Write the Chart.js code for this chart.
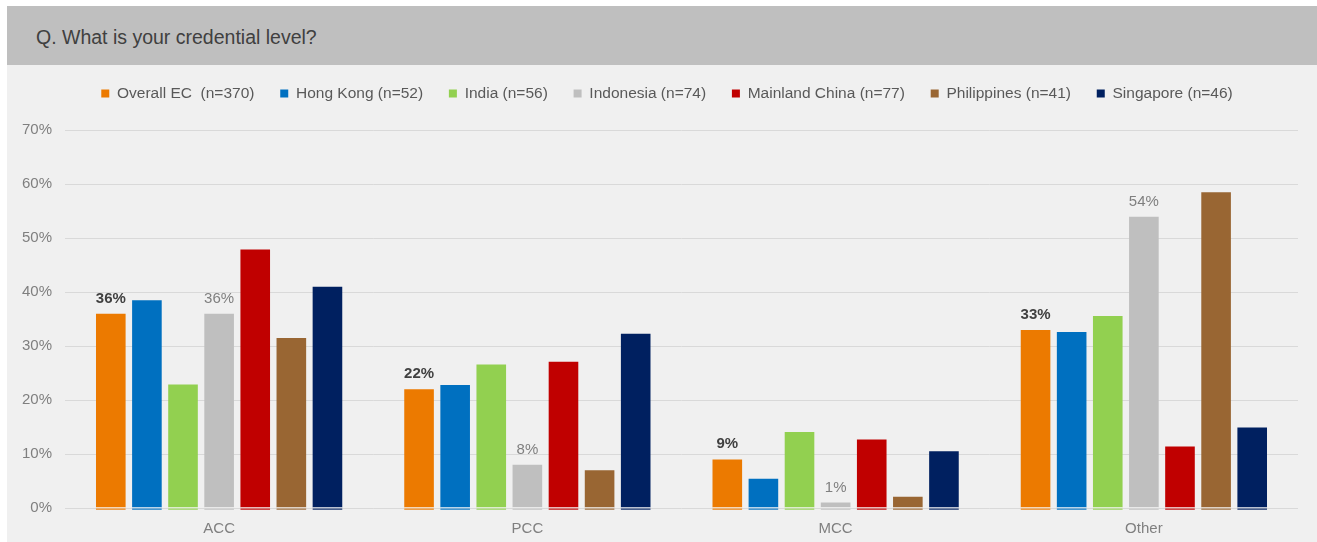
<!DOCTYPE html>
<html>
<head>
<meta charset="utf-8">
<script src="https://cdn.jsdelivr.net/npm/chart.js@4/dist/chart.umd.min.js"></script>
<style>
  html, body { margin: 0; padding: 0; background: #ffffff; }
  #panel { position: absolute; left: 7px; top: 6px; width: 1310px; height: 536px; }
  #title {
    height: 59px; background: #bfbfbf; color: #404040;
    font-family: "Liberation Sans", Arial, sans-serif; font-size: 19.5px;
    line-height: 62px; padding-left: 29px; box-sizing: border-box;
  }
  #wrap { position: relative; width: 1310px; height: 477px; background: #f0f0f0; }
</style>
</head>
<body>
<div id="panel">
  <div id="title">Q. What is your credential level?</div>
  <div id="wrap"><canvas id="c" width="1310" height="477"></canvas></div>
</div>
<script>
const categories = ['ACC', 'PCC', 'MCC', 'Other'];
const seriesNames = ['Overall EC  (n=370)', 'Hong Kong (n=52)', 'India (n=56)', 'Indonesia (n=74)',
                     'Mainland China (n=77)', 'Philippines (n=41)', 'Singapore (n=46)'];
const overallEC     = [36, 22, 9, 33];
const hongKong      = [38.5, 22.8, 5.4, 32.6];
const india         = [22.9, 26.6, 14.1, 35.6];
const indonesia     = [36, 8, 1, 54];
const mainlandChina = [47.9, 27.1, 12.7, 11.4];
const philippines   = [31.5, 7.0, 2.1, 58.5];
const singapore     = [41.0, 32.3, 10.5, 14.9];
const yTicks = [0, 10, 20, 30, 40, 50, 60, 70];

const colors = ['#ec7a00', '#0070c0', '#92d050', '#bfbfbf', '#c00000', '#996633', '#002060'];
const values = [overallEC, hongKong, india, indonesia, mainlandChina, philippines, singapore];
// series that carry value labels, with their label styling
const labelStyle = {
  0: { font: 'bold 15px "Liberation Sans", Arial, sans-serif', color: '#404040' },
  3: { font: '15px "Liberation Sans", Arial, sans-serif', color: '#7f7f7f' }
};

const FONT = '"Liberation Sans", Arial, sans-serif';

// legend placement: extra gap below the legend row, and a small shift to the right
const legendPlacement = {
  id: 'legendPlacement',
  afterInit(chart) {
    const lg = chart.legend;
    if (!lg) return;
    const fit = lg.fit.bind(lg);
    lg.fit = function () { fit(); this.height += 19; };
  },
  afterLayout(chart) {
    const lg = chart.legend;
    if (!lg) return;
    lg.left += 14.5;
    lg.right += 14.5;
  }
};

const barExtras = {
  id: 'barExtras',
  afterDatasetsDraw(chart) {
    const ctx = chart.ctx;
    chart.data.datasets.forEach((ds, i) => {
      const meta = chart.getDatasetMeta(i);
      meta.data.forEach((bar, j) => {
        const w = bar.width;
        // thin underline beneath each bar
        ctx.save();
        ctx.fillStyle = '#fafafa';
        ctx.fillRect(bar.x - w / 2, bar.base, w, 1);
        ctx.fillStyle = ds.backgroundColor;
        ctx.fillRect(bar.x - w / 2, bar.base + 1, w, 1.2);
        ctx.restore();
        const st = labelStyle[i];
        if (st) {
          ctx.save();
          ctx.font = st.font;
          ctx.fillStyle = st.color;
          ctx.textAlign = 'center';
          ctx.textBaseline = 'alphabetic';
          ctx.fillText(Math.round(ds.data[j]) + '%', bar.x, bar.y - 11);
          ctx.restore();
        }
      });
    });
  }
};

new Chart(document.getElementById('c'), {
  type: 'bar',
  data: {
    labels: categories,
    datasets: seriesNames.map((name, i) => ({
      label: name,
      data: values[i],
      backgroundColor: colors[i],
      borderWidth: 0,
      categoryPercentage: 0.82,
      barPercentage: 0.82
    }))
  },
  options: {
    responsive: false,
    animation: false,
    devicePixelRatio: 1,
    layout: { padding: { top: -5, right: 19, left: 0, bottom: 0 } },
    plugins: {
      tooltip: { enabled: false },
      legend: {
        position: 'top',
        labels: {
          boxWidth: 8, boxHeight: 8, padding: 25.8,
          color: '#595959',
          font: { family: FONT, size: 15.5 }
        }
      }
    },
    scales: {
      x: {
        grid: { display: false, drawTicks: false },
        border: { display: false },
        ticks: { color: '#7f7f7f', font: { family: FONT, size: 15 }, padding: 12 },
        afterFit(scale) { scale.height = 34; }
      },
      y: {
        min: 0, max: 70,
        afterBuildTicks(scale) { scale.ticks = yTicks.map(v => ({ value: v })); },
        grid: { color: '#d9d9d9', lineWidth: 1, drawTicks: false },
        border: { display: false },
        ticks: {
          color: '#7f7f7f', font: { family: FONT, size: 15 }, padding: 13,
          callback: v => v + '%'
        },
        afterFit(scale) { scale.width = 58; }
      }
    }
  },
  plugins: [legendPlacement, barExtras]
});
</script>
</body>
</html>
